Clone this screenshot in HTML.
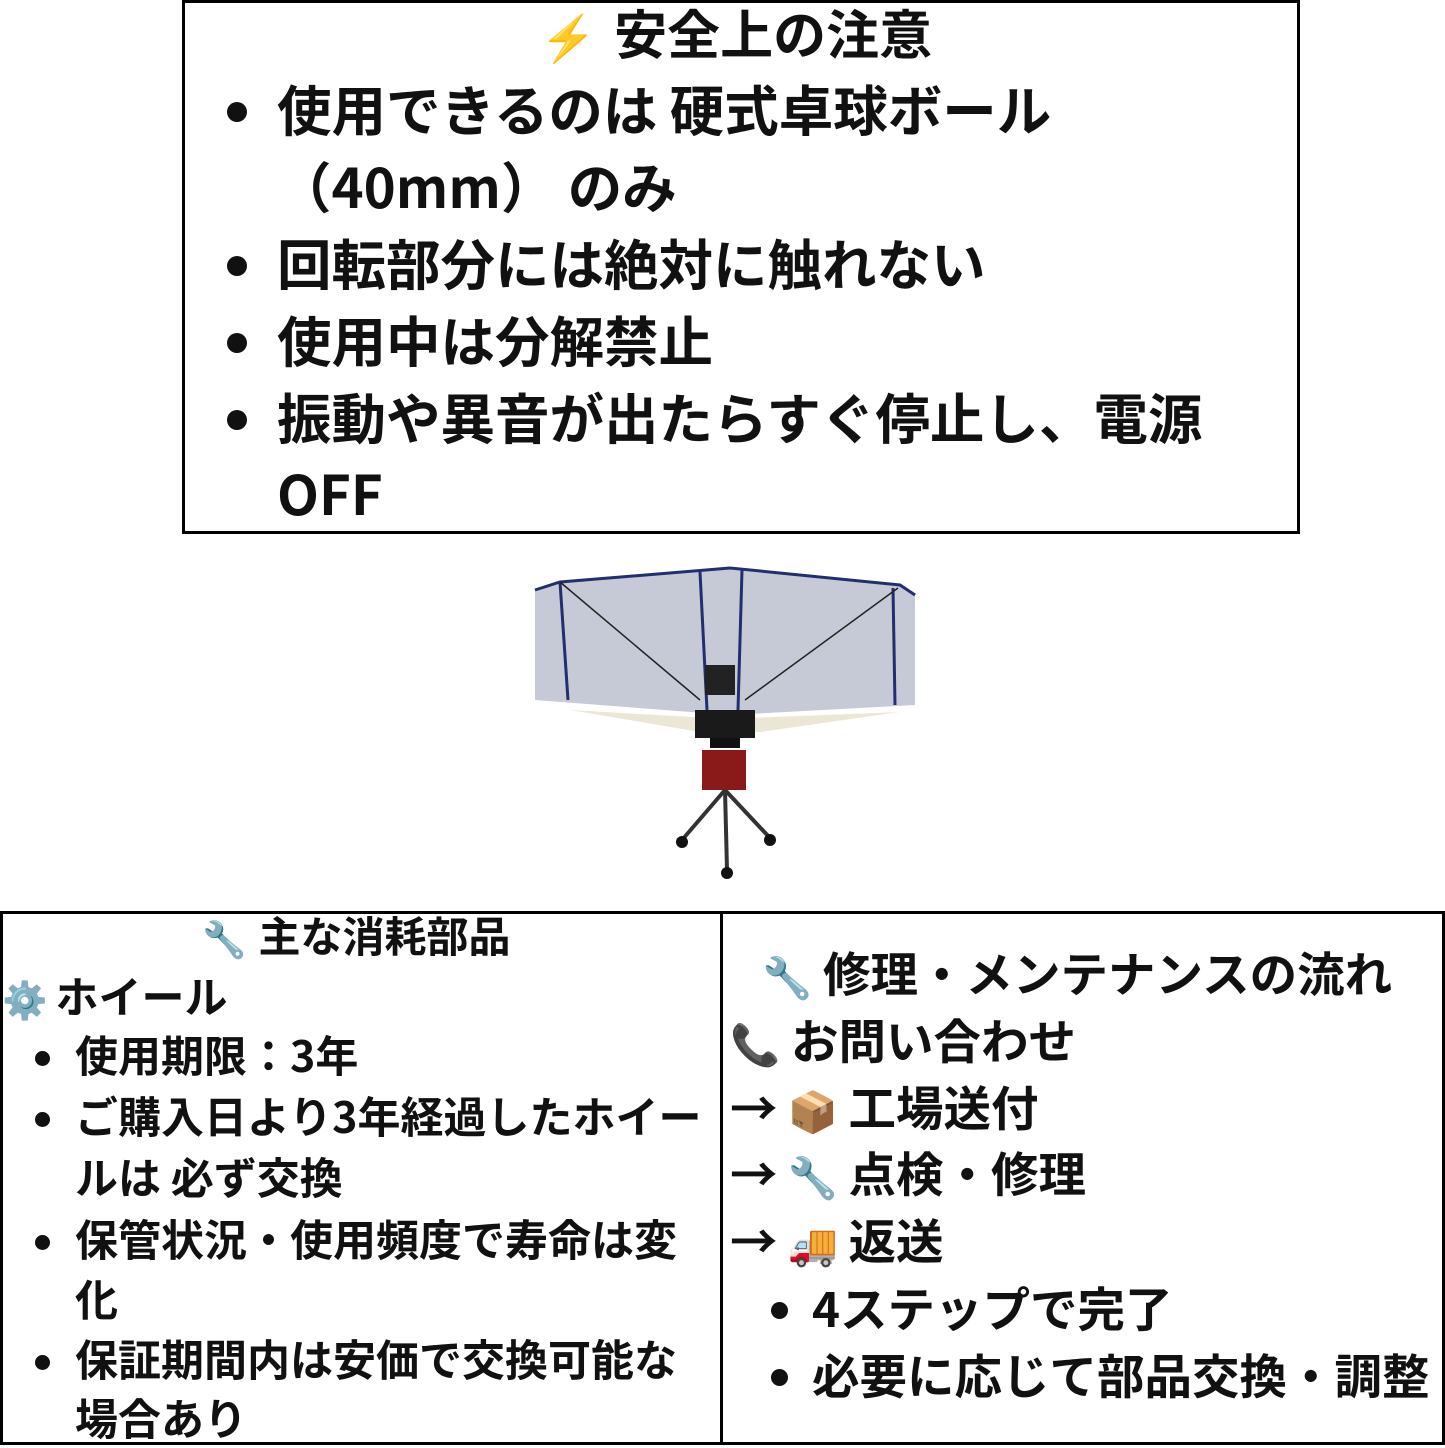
<!DOCTYPE html>
<html><head><meta charset="utf-8"><style>
html,body{margin:0;padding:0;background:#fff;}
body{width:1445px;height:1445px;position:relative;overflow:hidden;font-family:"Noto Sans CJK JP","Liberation Sans",sans-serif;font-weight:bold;color:#111;}
.box{position:absolute;border:3px solid #000;box-sizing:border-box;}
.t{position:absolute;white-space:nowrap;line-height:1;}
.dot{position:absolute;border-radius:50%;background:#111;}
.e{font-family:sans-serif;font-size:0.85em;}
</style></head><body>
<div class="box" style="left:182px;top:0;width:1118px;height:534px;"></div>
<div class="t" style="left:540px;top:6px;font-size:53px;"><span class="e" style="color:#f5a800;margin-right:18px">⚡</span>安全上の注意</div>
<div class="dot" style="left:227px;top:102px;width:20px;height:20px"></div>
<div class="t" style="left:277px;top:81px;font-size:54.5px;">使用できるのは 硬式卓球ボール</div>
<div class="t" style="left:277px;top:158px;font-size:54.5px;">（40mm） のみ</div>
<div class="dot" style="left:227px;top:256px;width:20px;height:20px"></div>
<div class="t" style="left:277px;top:235px;font-size:54.5px;">回転部分には絶対に触れない</div>
<div class="dot" style="left:227px;top:333px;width:20px;height:20px"></div>
<div class="t" style="left:277px;top:312px;font-size:54.5px;">使用中は分解禁止</div>
<div class="dot" style="left:227px;top:410px;width:20px;height:20px"></div>
<div class="t" style="left:277px;top:389px;font-size:54.5px;">振動や異音が出たらすぐ停止し、電源</div>
<div class="t" style="left:277px;top:465px;font-size:54.5px;">OFF</div>

<svg style="position:absolute;left:530px;top:560px" width="390" height="325" viewBox="0 0 390 325">
<polygon points="5,30 30,22 200,8 370,25 385,35 385,145 200,155 5,140" fill="#c6cad6"/>
<polyline points="5,30 30,22 200,8 370,25 385,35" fill="none" stroke="#1f2f70" stroke-width="3"/>
<line x1="30" y1="22" x2="38" y2="140" stroke="#1f2f70" stroke-width="3"/>
<line x1="170" y1="12" x2="177" y2="150" stroke="#1f2f70" stroke-width="3"/>
<line x1="212" y1="10" x2="208" y2="150" stroke="#1f2f70" stroke-width="3"/>
<line x1="363" y1="28" x2="365" y2="145" stroke="#1f2f70" stroke-width="3"/>
<line x1="30" y1="22" x2="170" y2="140" stroke="#222" stroke-width="1.5"/>
<line x1="368" y1="28" x2="215" y2="140" stroke="#222" stroke-width="1.5"/>
<polygon points="40,150 180,158 220,158 370,152 230,172 170,172" fill="#ece6d4"/>
<rect x="175" y="105" width="30" height="30" fill="#222"/>
<rect x="165" y="150" width="60" height="28" fill="#1a1a1a"/>
<rect x="180" y="178" width="30" height="10" fill="#111"/>
<rect x="172" y="190" width="44" height="40" fill="#8a1a1a"/>
<line x1="195" y1="230" x2="152" y2="280" stroke="#333" stroke-width="4"/>
<line x1="195" y1="230" x2="240" y2="278" stroke="#333" stroke-width="4"/>
<line x1="195" y1="230" x2="197" y2="310" stroke="#333" stroke-width="4"/>
<circle cx="152" cy="282" r="6" fill="#111"/><circle cx="240" cy="280" r="6" fill="#111"/><circle cx="197" cy="313" r="6" fill="#111"/>
</svg>

<div class="box" style="left:0;top:911px;width:723px;height:534px;"></div>
<div class="box" style="left:720px;top:911px;width:725px;height:534px;"></div>

<div class="t" style="left:202px;top:914px;font-size:42px;"><span class="e" style="margin-right:12px">🔧</span>主な消耗部品</div>
<div class="t" style="left:2px;top:974px;font-size:43px;"><span class="e" style="margin-right:8px">⚙️</span>ホイール</div>
<div class="dot" style="left:35px;top:1051px;width:15px;height:15px"></div>
<div class="t" style="left:75px;top:1033px;font-size:43px;">使用期限：3年</div>
<div class="dot" style="left:35px;top:1112px;width:15px;height:15px"></div>
<div class="t" style="left:75px;top:1094px;font-size:43px;">ご購入日より3年経過したホイー</div>
<div class="t" style="left:75px;top:1155px;font-size:43px;">ルは 必ず交換</div>
<div class="dot" style="left:35px;top:1235px;width:15px;height:15px"></div>
<div class="t" style="left:75px;top:1217px;font-size:43px;">保管状況・使用頻度で寿命は変</div>
<div class="t" style="left:75px;top:1277px;font-size:43px;">化</div>
<div class="dot" style="left:35px;top:1355px;width:15px;height:15px"></div>
<div class="t" style="left:75px;top:1337px;font-size:43px;">保証期間内は安価で交換可能な</div>
<div class="t" style="left:75px;top:1396px;font-size:43px;">場合あり</div>

<div class="t" style="left:762px;top:948px;font-size:47.5px;"><span class="e">🔧</span> 修理・メンテナンスの流れ</div>
<div class="t" style="left:730px;top:1015px;font-size:47.5px;"><span class="e">📞</span> お問い合わせ</div>
<div class="t" style="left:730px;top:1082px;font-size:47.5px;">→<span class="e" style="margin-left:10px">📦</span> 工場送付</div>
<div class="t" style="left:730px;top:1148px;font-size:47.5px;">→<span class="e" style="margin-left:10px">🔧</span> 点検・修理</div>
<div class="t" style="left:730px;top:1215px;font-size:47.5px;">→<span class="e" style="margin-left:10px">🚚</span> 返送</div>
<div class="dot" style="left:771px;top:1302px;width:17px;height:17px"></div>
<div class="t" style="left:812px;top:1283px;font-size:47.5px;">4ステップで完了</div>
<div class="dot" style="left:771px;top:1369px;width:17px;height:17px"></div>
<div class="t" style="left:812px;top:1350px;font-size:47.5px;">必要に応じて部品交換・調整</div>
</body></html>
